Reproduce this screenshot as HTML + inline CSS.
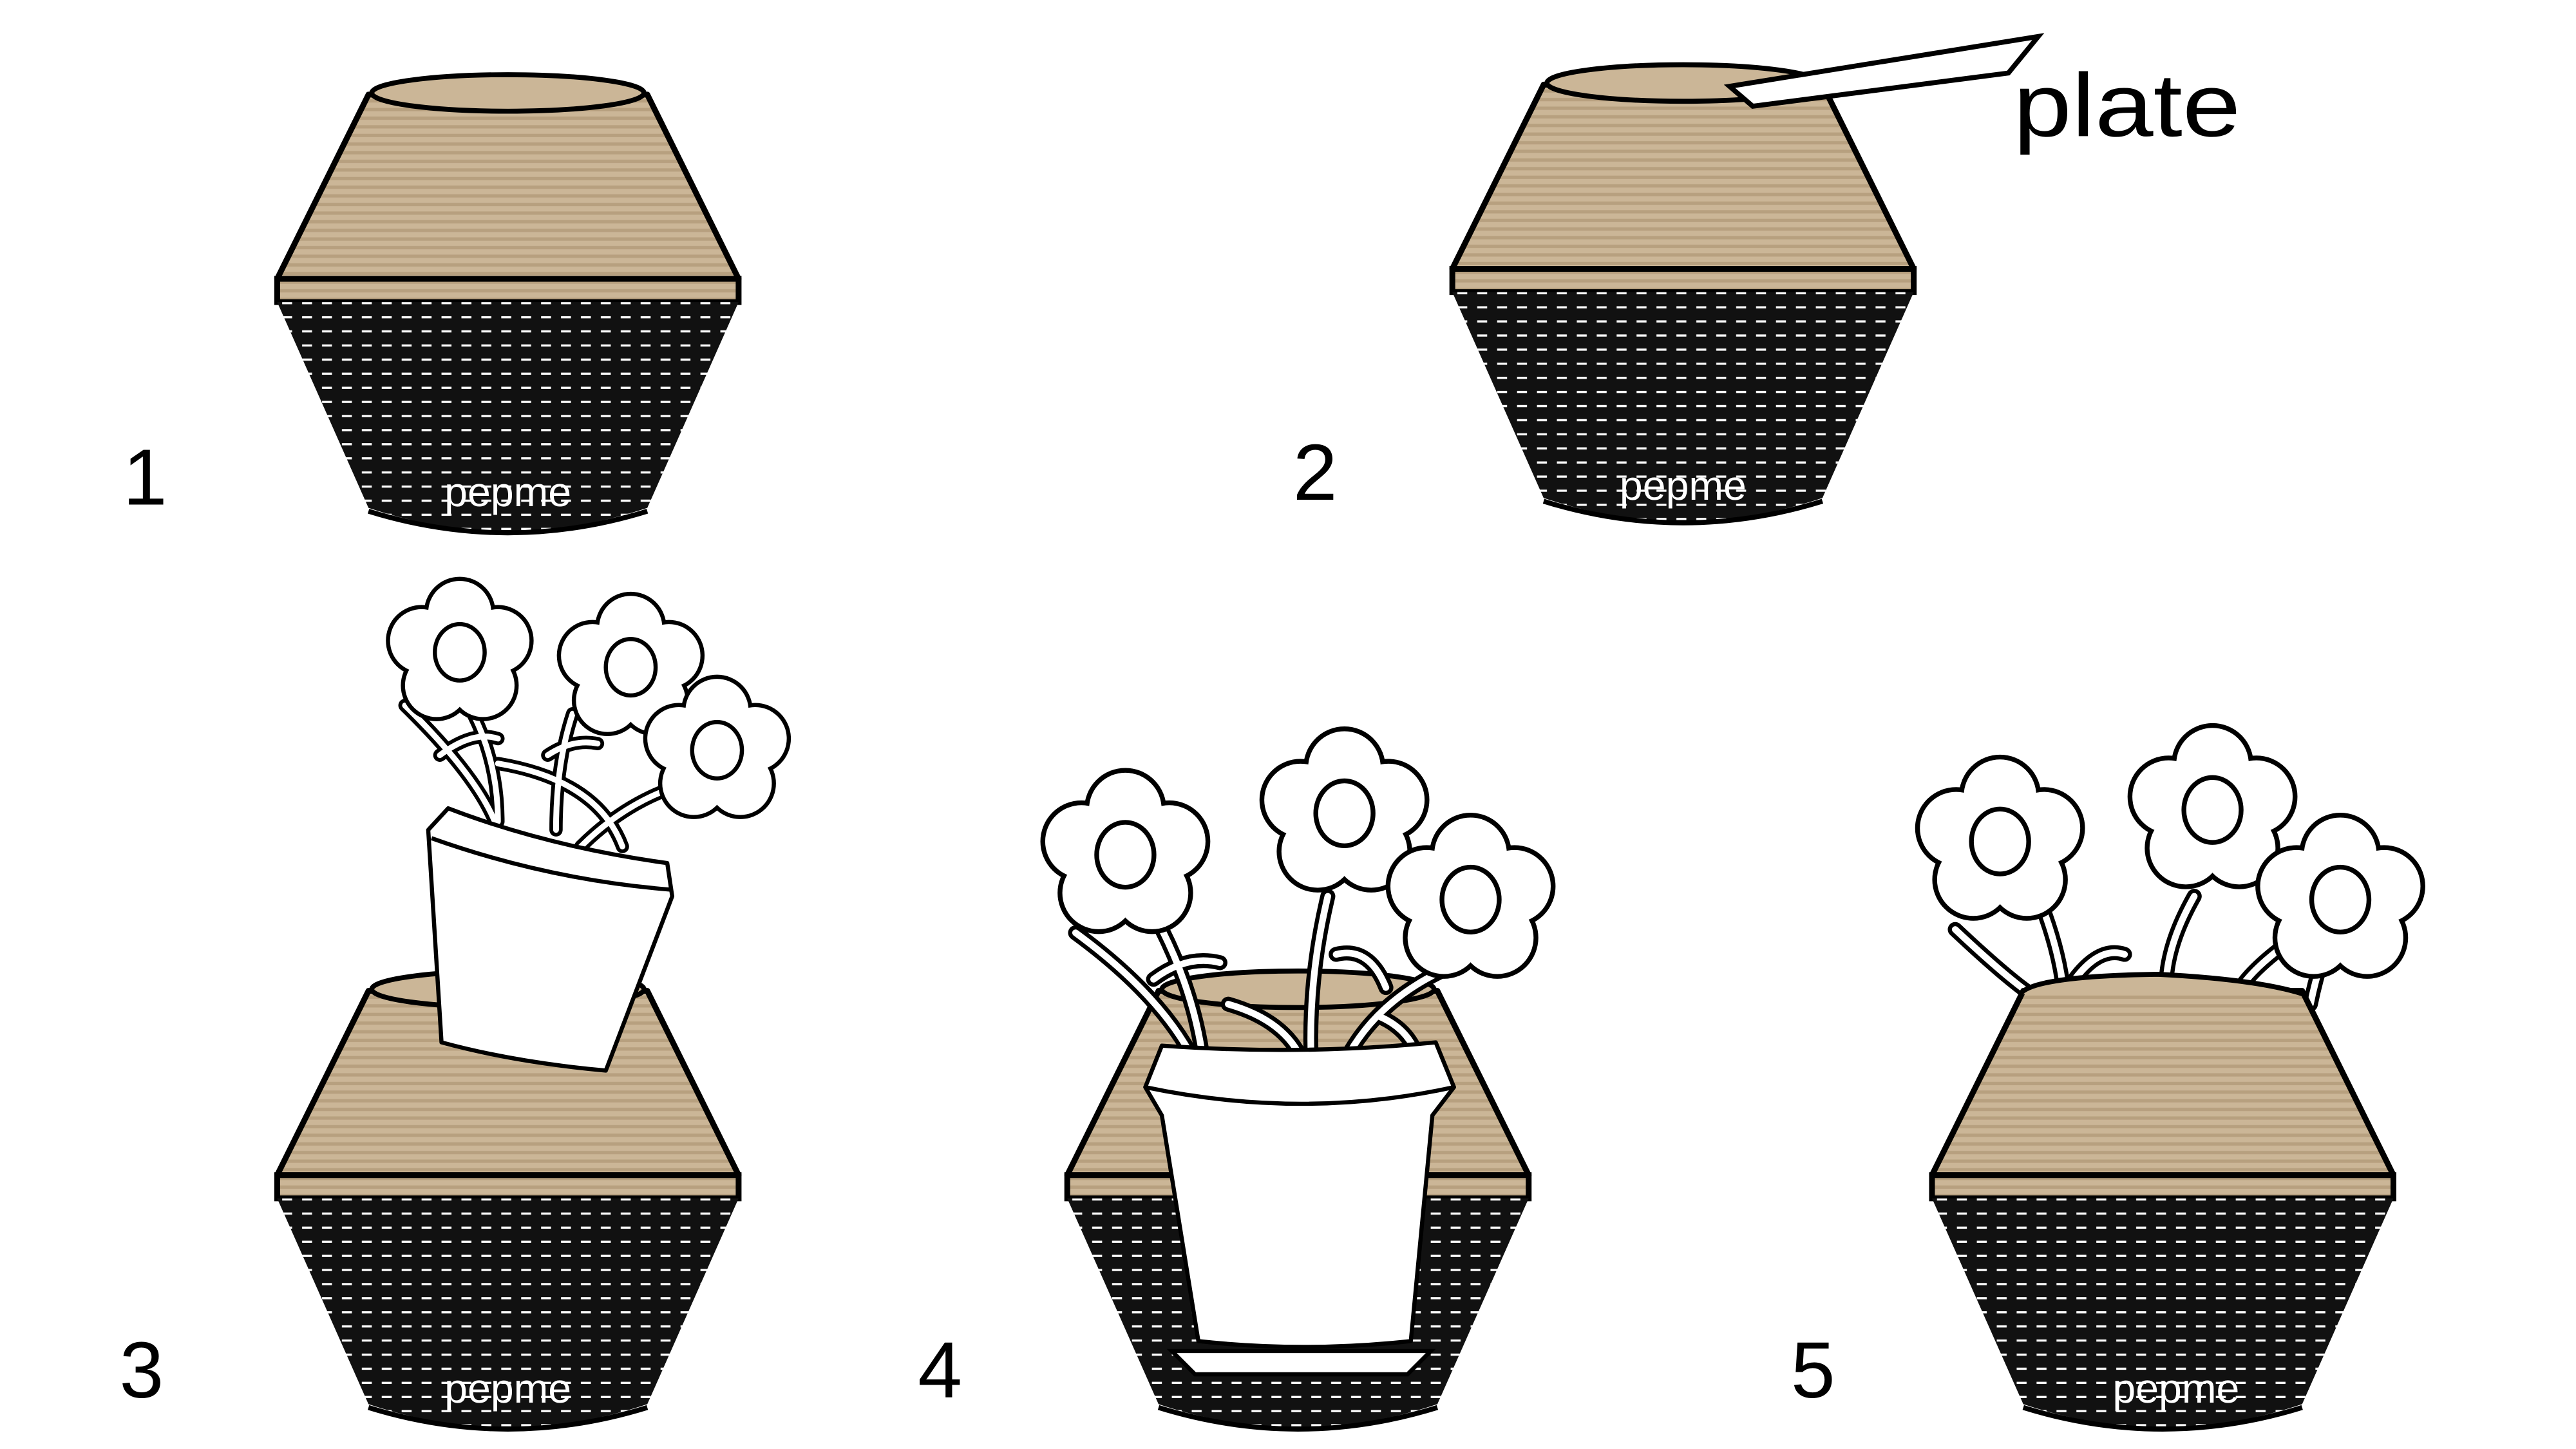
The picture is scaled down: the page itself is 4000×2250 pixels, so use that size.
<!DOCTYPE html>
<html><head><meta charset="utf-8"><style>html,body{margin:0;padding:0;background:#fff}svg{display:block}</style></head>
<body>
<svg width="4000" height="2250" viewBox="0 0 1552 873" xmlns="http://www.w3.org/2000/svg">
<defs>
<pattern id="tan" width="10" height="5.2" patternUnits="userSpaceOnUse">
<rect width="10" height="5.2" fill="#cbb697"/><rect y="2.6" width="10" height="2" fill="#b7a07f"/></pattern>
<pattern id="dk" width="12" height="8.5" patternUnits="userSpaceOnUse">
<rect width="12" height="8.5" fill="#111"/><rect x="2" y="3.5" width="6" height="1.3" fill="#fff"/></pattern>
<g id="pot">
<path d="M222,57 L390,57 L445,168 L167,168 Z" fill="url(#tan)" stroke="#000" stroke-width="3.5" stroke-linejoin="round"/>
<rect x="167" y="168" width="278" height="14" fill="url(#tan)" stroke="#000" stroke-width="3.5"/>
<path d="M167,182 L445,182 L390,306 Q306,334 222,306 Z" fill="url(#dk)"/>
<path d="M222,308 Q306,334 390,308" fill="none" stroke="#000" stroke-width="3"/>
</g>
<g id="fl">
<g stroke="#000" stroke-width="5" fill="#fff">
<circle cx="0" cy="-24" r="19"/><circle cx="23" cy="-7" r="19"/><circle cx="14" cy="20" r="19"/><circle cx="-14" cy="20" r="19"/><circle cx="-23" cy="-7" r="19"/></g>
<g fill="#fff">
<circle cx="0" cy="-24" r="19"/><circle cx="23" cy="-7" r="19"/><circle cx="14" cy="20" r="19"/><circle cx="-14" cy="20" r="19"/><circle cx="-23" cy="-7" r="19"/><circle r="22"/></g>
<ellipse rx="15" ry="17" fill="#fff" stroke="#000" stroke-width="2.5"/>
</g>
</defs>

<!-- Pot 1 -->
<use href="#pot"/>
<ellipse cx="306" cy="56" rx="82" ry="11" fill="#cbb697" stroke="#000" stroke-width="3"/>
<text x="306" y="305" font-family="Liberation Sans, sans-serif" font-size="25" fill="#fff" text-anchor="middle">pepme</text>
<text x="74" y="304" font-family="Liberation Sans, sans-serif" font-size="48" fill="#000">1</text>

<!-- Pot 2 -->
<use href="#pot" transform="translate(708,-6)"/>
<ellipse cx="1014" cy="50" rx="82" ry="11" fill="#cbb697" stroke="#000" stroke-width="3"/>
<polygon points="1042,52 1228,22 1210,44 1056,64" fill="#fff" stroke="#000" stroke-width="3"/>
<text x="1213" y="82" font-family="Liberation Sans, sans-serif" font-size="54" fill="#000" textLength="137" lengthAdjust="spacingAndGlyphs">plate</text>
<text x="1014" y="301" font-family="Liberation Sans, sans-serif" font-size="25" fill="#fff" text-anchor="middle">pepme</text>
<text x="779" y="301" font-family="Liberation Sans, sans-serif" font-size="48" fill="#000">2</text>

<!-- Pot 3 -->
<use href="#pot" transform="translate(0,540)"/>
<ellipse cx="306" cy="596" rx="82" ry="11" fill="#cbb697" stroke="#000" stroke-width="3"/>
<text x="306" y="845" font-family="Liberation Sans, sans-serif" font-size="25" fill="#fff" text-anchor="middle">pepme</text>
<text x="72" y="842" font-family="Liberation Sans, sans-serif" font-size="48" fill="#000">3</text>
<g fill="none" stroke-linecap="round">
<g stroke="#000" stroke-width="8">
<path d="M244,425 Q290,470 300,500"/><path d="M285,430 Q300,460 300,495"/><path d="M345,430 Q335,460 335,500"/><path d="M420,470 Q380,480 350,510"/><path d="M300,460 Q360,470 375,510"/><path d="M265,455 Q285,440 300,445"/><path d="M330,455 Q345,445 360,448"/>
</g>
<g stroke="#fff" stroke-width="3.5">
<path d="M244,425 Q290,470 300,500"/><path d="M285,430 Q300,460 300,495"/><path d="M345,430 Q335,460 335,500"/><path d="M420,470 Q380,480 350,510"/><path d="M300,460 Q360,470 375,510"/><path d="M265,455 Q285,440 300,445"/><path d="M330,455 Q345,445 360,448"/>
</g></g>
<use href="#fl" transform="translate(277,393)"/>
<use href="#fl" transform="translate(380,402)"/>
<use href="#fl" transform="translate(432,452)"/>
<path d="M258,500 L270,487 Q330,510 402,520 L405,540 L365,645 Q310,640 266,628 Z" fill="#fff" stroke="#000" stroke-width="2.5" stroke-linejoin="round"/>
<path d="M260,505 Q330,530 404,536" fill="none" stroke="#000" stroke-width="2.5"/>

<!-- Pot 4 -->
<use href="#pot" transform="translate(476,540)"/>
<ellipse cx="782" cy="596" rx="82" ry="11" fill="#cbb697" stroke="#000" stroke-width="3"/>
<text x="553" y="842" font-family="Liberation Sans, sans-serif" font-size="48" fill="#000">4</text>
<g fill="none" stroke-linecap="round">
<g stroke="#000" stroke-width="9">
<path d="M648,562 Q700,600 720,640"/><path d="M700,560 Q720,600 725,640"/><path d="M800,540 Q788,590 790,640"/><path d="M740,605 Q775,615 785,640"/><path d="M880,580 Q830,600 810,640"/><path d="M830,612 Q850,620 855,640"/><path d="M695,590 Q715,575 735,580"/><path d="M805,575 Q825,570 835,595"/>
</g>
<g stroke="#fff" stroke-width="4">
<path d="M648,562 Q700,600 720,640"/><path d="M700,560 Q720,600 725,640"/><path d="M800,540 Q788,590 790,640"/><path d="M740,605 Q775,615 785,640"/><path d="M880,580 Q830,600 810,640"/><path d="M830,612 Q850,620 855,640"/><path d="M695,590 Q715,575 735,580"/><path d="M805,575 Q825,570 835,595"/>
</g></g>
<use href="#fl" transform="translate(678,515) scale(1.15)"/>
<use href="#fl" transform="translate(810,490) scale(1.15)"/>
<use href="#fl" transform="translate(886,542) scale(1.15)"/>
<path d="M690,655 L700,630 Q785,636 865,628 L876,655 L863,672 L850,808 Q785,815 722,808 L700,672 Z" fill="#fff" stroke="#000" stroke-width="2.5" stroke-linejoin="round"/>
<path d="M690,655 Q785,675 876,655" fill="none" stroke="#000" stroke-width="2.5"/>
<polygon points="706,814 862,814 848,828 720,828" fill="#fff" stroke="#000" stroke-width="2.5"/>

<!-- Pot 5 -->
<g fill="none" stroke-linecap="round">
<g stroke="#000" stroke-width="9">
<path d="M1178,560 Q1210,590 1225,600"/><path d="M1228,540 Q1240,570 1243,595"/><path d="M1322,540 Q1305,570 1305,595"/><path d="M1390,560 Q1360,580 1350,595"/><path d="M1400,575 Q1395,590 1392,605"/><path d="M1250,590 Q1265,570 1280,575"/>
</g>
<g stroke="#fff" stroke-width="4">
<path d="M1178,560 Q1210,590 1225,600"/><path d="M1228,540 Q1240,570 1243,595"/><path d="M1322,540 Q1305,570 1305,595"/><path d="M1390,560 Q1360,580 1350,595"/><path d="M1400,575 Q1395,590 1392,605"/><path d="M1250,590 Q1265,570 1280,575"/>
</g></g>
<use href="#fl" transform="translate(1205,507) scale(1.15)"/>
<use href="#fl" transform="translate(1333,488) scale(1.15)"/>
<use href="#fl" transform="translate(1410,542) scale(1.15)"/>
<use href="#pot" transform="translate(997,540)"/>
<path d="M1217,599 Q1225,588 1300,587 Q1360,590 1388,599" fill="#cbb697" stroke="#000" stroke-width="3"/>
<text x="1311" y="845" font-family="Liberation Sans, sans-serif" font-size="25" fill="#fff" text-anchor="middle">pepme</text>
<text x="1079" y="842" font-family="Liberation Sans, sans-serif" font-size="48" fill="#000">5</text>
</svg>
</body></html>
